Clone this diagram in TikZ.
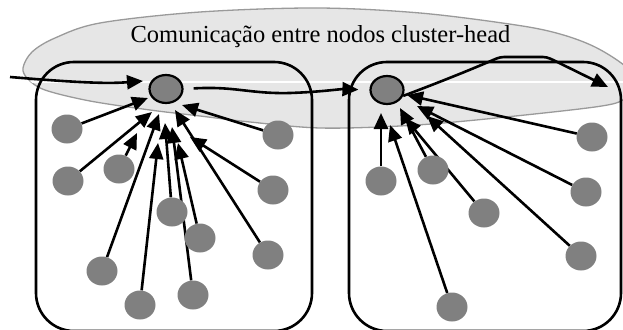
\documentclass[tikz,border=0pt]{standalone}
\usepackage{fontspec}
\setmainfont{Liberation Serif}
\usetikzlibrary{arrows.meta,shapes.geometric}
\pgfdeclarelayer{back}
\pgfdeclarelayer{links}
\pgfsetlayers{back,links,main}
\definecolor{nodegray}{HTML}{808080}
\definecolor{zonefill}{HTML}{E6E6E6}
\definecolor{zoneedge}{HTML}{9A9A9A}

\begin{document}
\begin{tikzpicture}[x=1pt,y=-1pt,
  member/.style={ellipse, fill=nodegray, draw=none, minimum width=31pt, minimum height=29pt, inner sep=0pt},
  chead/.style={ellipse, fill=nodegray, draw=black, line width=2.2pt, minimum width=33pt, minimum height=28pt, inner sep=0pt},
  cluster/.style={draw=black, line width=2.6pt, rounded corners=38pt},
  link/.style={draw=black, line width=2.6pt, -{Triangle[length=16pt,width=14pt]}},
  zone/.style={fill=zonefill, draw=zoneedge, line width=1.3pt},
]
\useasboundingbox (0,0) rectangle (623,329);
\clip (0,0) rectangle (623,329);

% shared communication zone of the cluster-heads
\begin{pgfonlayer}{back}
  \path[zone] plot[smooth cycle, tension=0.55] coordinates {
    (23,68) (32,52) (55,38) (100,23) (200,12) (317,8) (420,13) (516,25)
    (560,34) (595,47) (625,66) (640,85) (625,99) (595,107) (476,120)
    (400,126) (320,128) (250,122) (200,116) (150,110) (90,101) (45,90) (28,79)};
  \begin{scope}
    \clip plot[smooth cycle, tension=0.55] coordinates {
      (23,68) (32,52) (55,38) (100,23) (200,12) (317,8) (420,13) (516,25)
      (560,34) (595,47) (625,66) (640,85) (625,99) (595,107) (476,120)
      (400,126) (320,128) (250,122) (200,116) (150,110) (90,101) (45,90) (28,79)};
    \draw[white, line width=1.8pt] (0,82) -- (623,82);
  \end{scope}
\end{pgfonlayer}

\node[anchor=base, font=\fontsize{24.5}{28}\selectfont, inner sep=0pt] (title) at (320.5,43)
  {Comunicação entre nodos cluster-head};

% the two clusters
\draw[cluster] (36,62) rectangle (312,331);
\draw[cluster] (349,62) rectangle (621,331);

% cluster-heads
\node[chead] (LH) at (166,89) {};
\node[chead] (RH) at (387,90) {};

% members of the left cluster
\node[member] (L1) at (67,129) {};
\node[member] (L2) at (68,181) {};
\node[member] (L3) at (119,169) {};
\node[member] (L4) at (102,271) {};
\node[member] (L5) at (140,305) {};
\node[member] (L6) at (172,212) {};
\node[member] (L7) at (193,295) {};
\node[member] (L8) at (200,238) {};
\node[member] (L9) at (268,255) {};
\node[member] (L10) at (273,190) {};
\node[member] (L11) at (278,135) {};

% members of the right cluster
\node[member] (R1) at (381,181) {};
\node[member] (R2) at (452,307) {};
\node[member] (R3) at (433,170) {};
\node[member] (R4) at (484,213) {};
\node[member] (R5) at (592,137) {};
\node[member] (R6) at (586,192) {};
\node[member] (R7) at (581,256) {};

% arrow ends next to the cluster-heads
\coordinate (tL1) at (148,98);
\coordinate (tL2) at (152,112);
\coordinate (tL3) at (137,133);
\coordinate (tL4) at (159,114);
\coordinate (tL5) at (158,143);
\coordinate (tL6) at (165,123);
\coordinate (tL7) at (172,127);
\coordinate (tL8) at (178,143);
\coordinate (tL9) at (175,110);
\coordinate (tL10) at (190,137);
\coordinate (tL11) at (182,105);

\coordinate (tR1) at (381,113);
\coordinate (tR2) at (390,125);
\coordinate (tR3) at (400,108);
\coordinate (tR4) at (405,118);
\coordinate (tR5) at (407,95);
\coordinate (tR6) at (417,106);
\coordinate (tR7) at (427,116);

\coordinate (src) at (10,77);
\coordinate (inTip) at (143,81);
\coordinate (outTip) at (608,87);

\begin{pgfonlayer}{links}
  \foreach \i in {1,...,11} \draw[link] (L\i) -- (tL\i);
  \foreach \i in {1,...,7} \draw[link] (R\i) -- (tR\i);

  % traffic between the cluster-heads
  \draw[link] (src) .. controls (70,82) and (105,84) .. (inTip);
  \draw[link, shorten <=10pt, shorten >=11pt] (LH.east)
    .. controls (235,86) and (250,94) .. (290,93)
    .. controls (320,92) and (340,89) .. (RH.west);
  \draw[link, rounded corners=4pt] (RH.-20)
    .. controls (440,82) and (470,70) .. (500,57) -- (547,57) -- (outTip);
\end{pgfonlayer}
\end{tikzpicture}
\end{document}
